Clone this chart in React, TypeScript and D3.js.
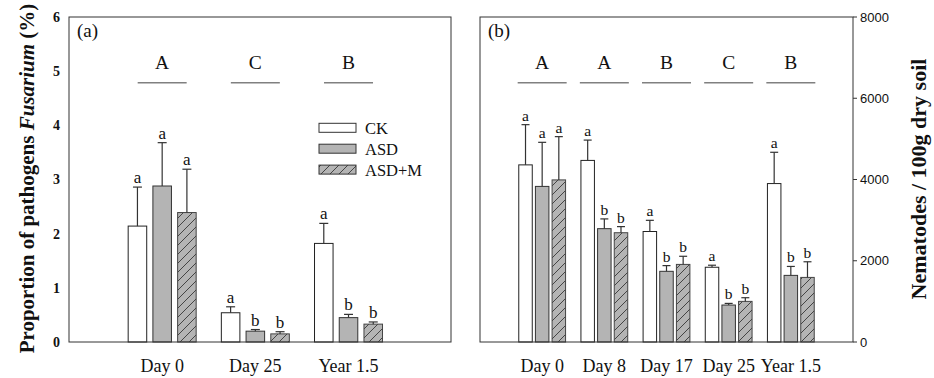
import React from "react";
import * as d3 from "d3";

// ---------- Data ----------
const seriesNames = ["CK", "ASD", "ASD+M"];

// Panel (a): Fusarium proportion (%)
const categoriesA = ["Day 0", "Day 25", "Year 1.5"];
const groupLettersA = ["A", "C", "B"];
const ckA = [2.14, 0.54, 1.82];
const ckSeA = [0.72, 0.11, 0.37];
const asdA = [2.88, 0.2, 0.45];
const asdSeA = [0.8, 0.03, 0.06];
const asdmA = [2.39, 0.15, 0.33];
const asdmSeA = [0.8, 0.04, 0.04];
const ckLetA = ["a", "a", "a"];
const asdLetA = ["a", "b", "b"];
const asdmLetA = ["a", "b", "b"];
const yTicksA = [0, 1, 2, 3, 4, 5, 6];

// Panel (b): Nematodes / 100g dry soil
const categoriesB = ["Day 0", "Day 8", "Day 17", "Day 25", "Year 1.5"];
const groupLettersB = ["A", "A", "B", "C", "B"];
const ckB = [4360, 4470, 2720, 1840, 3900];
const ckSeB = [990, 500, 275, 50, 770];
const asdB = [3830, 2790, 1740, 910, 1640];
const asdSeB = [1085, 240, 140, 40, 220];
const asdmB = [3990, 2690, 1910, 1000, 1590];
const asdmSeB = [1065, 150, 200, 90, 385];
const ckLetB = ["a", "a", "a", "a", "a"];
const asdLetB = ["a", "b", "b", "b", "b"];
const asdmLetB = ["a", "b", "b", "b", "b"];
const yTicksB = [0, 2000, 4000, 6000, 8000];

const SERIF = "'Liberation Serif', 'Times New Roman', serif";
const SANS = "'Liberation Sans', Arial, sans-serif";
const GRAY = "#b4b4b4";

type Panel = {
  cats: string[];
  groups: string[];
  means: number[][];
  ses: number[][];
  lets: string[][];
  x0: number;
  x1: number;
  xMax: number;
  yMax: number;
  barHalf: number;
  pad: number;
  letterSize: number;
  capHalf: number;
};

const TOP = 17;
const BOTTOM = 342;

function Bars({ p, id }: { p: Panel; id: string }) {
  const x = d3.scaleLinear().domain([0, p.xMax]).range([p.x0, p.x1]);
  const y = d3.scaleLinear().domain([0, p.yMax]).range([BOTTOM, TOP]);
  const inner = d3
    .scaleBand<string>()
    .domain(seriesNames)
    .range([-p.barHalf, p.barHalf])
    .paddingInner(p.pad);
  const bw = inner.bandwidth();
  const fills = ["#ffffff", GRAY, `url(#hatch-${id})`];
  const strokes = ["#222", "#333", "#444"];
  return (
    <g>
      {p.cats.map((c, i) => {
        const cx = x(i + 1);
        return (
          <g key={c}>
            <text
              x={cx}
              y={68.5}
              textAnchor="middle"
              fontFamily={SERIF}
              fontSize={19.5}
              fill="#111"
            >
              {p.groups[i]}
            </text>
            <line
              x1={cx - 24.5}
              x2={cx + 24.5}
              y1={82.7}
              y2={82.7}
              stroke="#808080"
              strokeWidth={1.5}
            />
            {seriesNames.map((s, k) => {
              const bx = cx + (inner(s) as number);
              const m = p.means[k][i];
              const top = y(m);
              const et = y(m + p.ses[k][i]);
              const mid = bx + bw / 2;
              return (
                <g key={s}>
                  <rect
                    x={bx}
                    y={top}
                    width={bw}
                    height={BOTTOM - top}
                    fill={fills[k]}
                    stroke={strokes[k]}
                    strokeWidth={1}
                  />
                  <line x1={mid} x2={mid} y1={top} y2={et} stroke="#333" strokeWidth={1.2} />
                  <line
                    x1={mid - p.capHalf}
                    x2={mid + p.capHalf}
                    y1={et}
                    y2={et}
                    stroke="#333"
                    strokeWidth={1.2}
                  />
                  <text
                    x={mid}
                    y={et - 4}
                    textAnchor="middle"
                    fontFamily={SERIF}
                    fontSize={p.letterSize}
                    fill="#111"
                  >
                    {p.lets[k][i]}
                  </text>
                </g>
              );
            })}
            <text
              x={cx}
              y={372}
              textAnchor="middle"
              fontFamily={SERIF}
              fontSize={18}
              fill="#111"
            >
              {c}
            </text>
          </g>
        );
      })}
    </g>
  );
}

export default function App() {
  const panelA: Panel = {
    cats: categoriesA,
    groups: groupLettersA,
    means: [ckA, asdA, asdmA],
    ses: [ckSeA, asdSeA, asdmSeA],
    lets: [ckLetA, asdLetA, asdmLetA],
    x0: 69,
    x1: 451,
    xMax: 4.1,
    yMax: 6,
    barHalf: 34,
    pad: 0.25,
    letterSize: 17,
    capHalf: 4.5,
  };
  const panelB: Panel = {
    cats: categoriesB,
    groups: groupLettersB,
    means: [ckB, asdB, asdmB],
    ses: [ckSeB, asdSeB, asdmSeB],
    lets: [ckLetB, asdLetB, asdmLetB],
    x0: 480,
    x1: 853,
    xMax: 6,
    yMax: 8000,
    barHalf: 23.4,
    pad: 0.19,
    letterSize: 15.5,
    capHalf: 4,
  };
  const yA = d3.scaleLinear().domain([0, 6]).range([BOTTOM, TOP]);
  const yB = d3.scaleLinear().domain([0, 8000]).range([BOTTOM, TOP]);

  return (
    <svg
      width={934}
      height={378}
      style={{ position: "absolute", left: 0, top: 0, background: "#fff" }}
    >
      <defs>
        {["a", "b"].map((id) => (
          <pattern
            key={id}
            id={`hatch-${id}`}
            patternUnits="userSpaceOnUse"
            width={9}
            height={9}
          >
            <rect width={9} height={9} fill={GRAY} />
            <path d="M-1,10 L10,-1" stroke="#444" strokeWidth={1} />
          </pattern>
        ))}
      </defs>
      <rect width={934} height={378} fill="#fff" />

      {/* Panel (a) */}
      <Bars p={panelA} id="a" />
      <rect x={69} y={TOP} width={451 - 69} height={BOTTOM - TOP} fill="none" stroke="#333" strokeWidth={1} />
      {yTicksA.map((t) => (
        <text
          key={t}
          x={60}
          y={yA(t)}
          dy="0.35em"
          textAnchor="end"
          fontFamily={SERIF}
          fontWeight="bold"
          fontSize={14}
          fill="#111"
        >
          {t}
        </text>
      ))}
      <text x={77} y={37} fontFamily={SERIF} fontSize={19} fill="#111">
        (a)
      </text>
      <text
        transform={`translate(34,${(TOP + BOTTOM) / 2 - 1}) rotate(-90)`}
        textAnchor="middle"
        fontFamily={SERIF}
        fontWeight="bold"
        fontSize={21}
        fill="#111"
      >
        Proportion of pathogens <tspan fontStyle="italic">Fusarium</tspan> (%)
      </text>

      {/* legend */}
      {seriesNames.map((s, k) => (
        <g key={s}>
          <rect
            x={319}
            y={123.3 + k * 20.9}
            width={37}
            height={9}
            fill={k === 0 ? "#fff" : k === 1 ? GRAY : "url(#hatch-a)"}
            stroke="#333"
            strokeWidth={1}
          />
          <text
            x={365}
            y={128 + k * 20.9}
            dy="0.35em"
            fontFamily={SERIF}
            fontSize={16.5}
            fill="#111"
          >
            {s}
          </text>
        </g>
      ))}

      {/* Panel (b) */}
      <Bars p={panelB} id="b" />
      <rect x={480} y={TOP} width={853 - 480} height={BOTTOM - TOP} fill="none" stroke="#333" strokeWidth={1} />
      {yTicksB.map((t) => (
        <g key={t}>
          <line x1={853} x2={857} y1={yB(t)} y2={yB(t)} stroke="#333" />
          <text
            x={860}
            y={yB(t)}
            dy="0.35em"
            fontFamily={SANS}
            fontSize={13}
            fill="#111"
          >
            {t}
          </text>
        </g>
      ))}
      <text x={488} y={37} fontFamily={SERIF} fontSize={19} fill="#111">
        (b)
      </text>
      <text
        transform={`translate(926,179) rotate(-90)`}
        textAnchor="middle"
        fontFamily={SERIF}
        fontWeight="bold"
        fontSize={22}
        fill="#111"
      >
        Nematodes / 100g dry soil
      </text>
    </svg>
  );
}
